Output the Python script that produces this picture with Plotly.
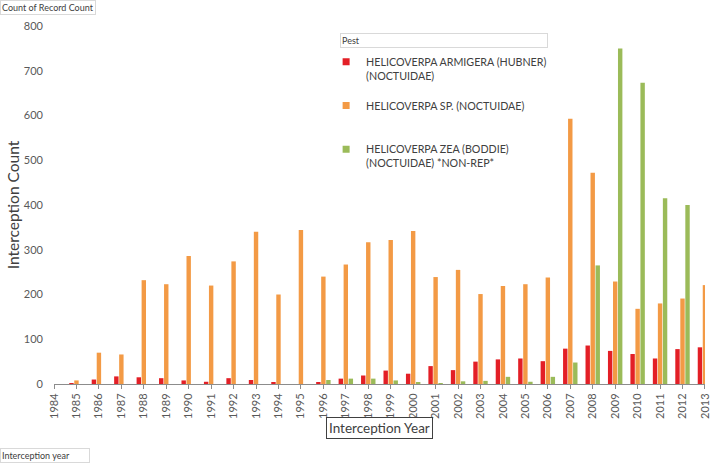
import plotly.graph_objects as go

years = list(range(1984, 2014))
armigera = [None, 1, 10, 17, 15, 13, 8, 5, 13, 9, 4, 0, 4, 12, 19, 30, 23, 40, 31, 50,
            55, 57, 51, 79, 86, 74, 67, 57, 78, 82]
sp = [None, 8, 70, 66, 232, 223, 286, 220, 274, 340, 200, 344, 240, 267, 317, 322, 342, 239, 255, 201,
      219, 223, 238, 593, 472, 229, 168, 180, 191, 221]
zea = [None, None, None, None, None, None, None, None, None, None, None, None, 9, 12, 12, 8, 4, 2, 6, 7,
       16, 5, 16, 48, 265, 750, 673, 415, 400, None]

names = ["HELICOVERPA ARMIGERA (HUBNER)<br>(NOCTUIDAE)",
         "HELICOVERPA SP. (NOCTUIDAE)<br>\u00a0",
         "HELICOVERPA ZEA (BODDIE)<br>(NOCTUIDAE) *NON-REP*"]
colors = ["#E31F26", "#F39A45", "#9BBB59"]
series = [armigera, sp, zea]

FONT = "Lato"
TXT = "#404040"

fig = go.Figure()
for vals, col, nm in zip(series, colors, names):
    fig.add_trace(go.Bar(x=years, y=vals, marker=dict(color=col, line=dict(width=0)),
                         showlegend=False, name=nm))
for vals, col, nm in zip(series, colors, names):
    fig.add_trace(go.Scatter(x=[None], y=[None], mode="markers", name=nm, legendgroup=nm,
                             marker=dict(symbol="square", size=7, color=col)))

fig.update_layout(
    width=710, height=463,
    margin=dict(l=54, r=5, t=26, b=79),
    paper_bgcolor="white", plot_bgcolor="white",
    barmode="group", bargap=0.33, bargroupgap=0.12,
    font=dict(family=FONT, size=11, color=TXT),
    legend=dict(x=0.418, y=0.938, xanchor="left", yanchor="top",
                font=dict(family=FONT, size=10.7, color=TXT),
                tracegroupgap=13, valign="top", bgcolor="rgba(0,0,0,0)"),
    xaxis=dict(range=[1983.999, 2013.002], tickmode="array", tickvals=years,
               ticktext=[str(y) for y in years], tickangle=-90,
               ticklabeloverflow="allow", automargin=False,
               showline=True, linecolor="#8C8C8C", linewidth=1,
               ticks="outside", ticklen=4, tickcolor="#8C8C8C",
               showgrid=False, zeroline=False,
               tickfont=dict(family=FONT, size=11, color="#595959")),
    yaxis=dict(range=[0, 800], dtick=100, showgrid=False, zeroline=False,
               showline=False, ticks="", ticklabelstandoff=10,
               tickfont=dict(family=FONT, size=11, color="#595959"),
               title=dict(text="Interception Count", standoff=0,
                          font=dict(family=FONT, size=15.5, color=TXT))),
)

fig.add_annotation(text="Interception Year", xref="paper", yref="paper", x=0.5, y=-0.123,
                   xanchor="center", yanchor="middle", showarrow=False,
                   font=dict(family=FONT, size=13.5, color=TXT),
                   bordercolor="#404040", borderwidth=1, borderpad=2, bgcolor="white")
fig.add_annotation(text="Count of Record Count", xref="paper", yref="paper",
                   x=-54/651, y=(384 - 0) / 358, xanchor="left", yanchor="top", showarrow=False,
                   font=dict(family=FONT, size=9, color=TXT),
                   bordercolor="#D9D9D9", borderwidth=1, borderpad=1, bgcolor="white")
fig.add_annotation(text="Interception year", xref="paper", yref="paper",
                   x=-54/651, y=(384 - 448) / 358, xanchor="left", yanchor="top", showarrow=False,
                   font=dict(family=FONT, size=9, color=TXT), align="left", width=86,
                   bordercolor="#D9D9D9", borderwidth=1, borderpad=1, bgcolor="white")
fig.add_annotation(text="Pest", xref="paper", yref="paper",
                   x=(340 - 54) / 651, y=(384 - 33) / 358, xanchor="left", yanchor="top", showarrow=False,
                   font=dict(family=FONT, size=9, color=TXT), align="left", width=204,
                   bordercolor="#D9D9D9", borderwidth=1, borderpad=1, bgcolor="white")

fig.write_html("out.html", config={"displayModeBar": False},
               post_script="document.body.style.margin='0';")
